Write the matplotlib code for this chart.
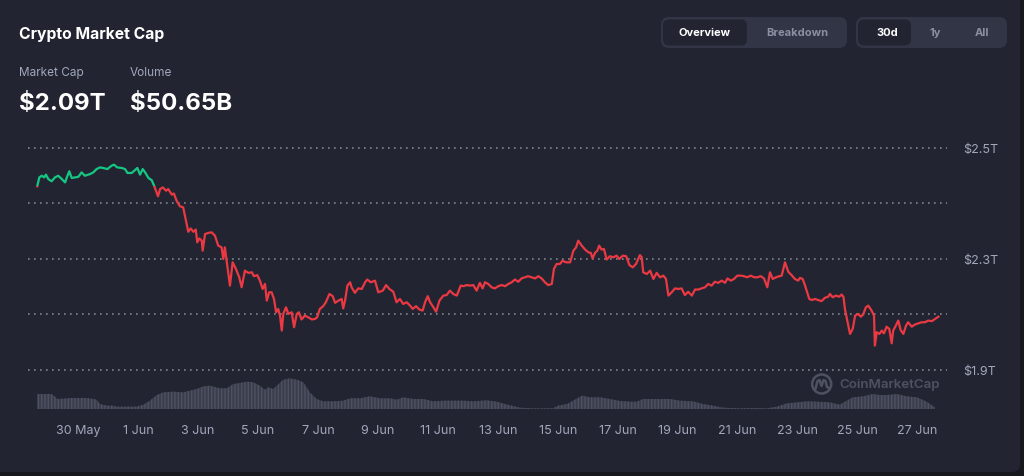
import matplotlib
matplotlib.use("Agg")
import matplotlib.pyplot as plt
from matplotlib.patches import FancyBboxPatch, Rectangle, Circle

plt.rcParams['font.family'] = ['Inter', 'DejaVu Sans']

# ---------------- data ----------------
# days relative to 30 May (0 = 30 May), total market cap in trillions USD
price_day = [-1.37, -1.30, -1.22, -1.14, -1.08, -1.00, -0.89, -0.78, -0.67, -0.55, -0.44, -0.39, -0.30, -0.22, -0.11,
             0.00, 0.11, 0.22, 0.39, 0.50, 0.61, 0.72, 0.83, 0.97, 1.11, 1.19, 1.30, 1.45, 1.56, 1.64, 1.78, 1.89,
             1.97, 2.06, 2.15, 2.23, 2.34, 2.45, 2.53, 2.59, 2.66, 2.73, 2.82, 2.93, 3.00, 3.12, 3.19, 3.28, 3.39,
             3.50, 3.59, 3.67, 3.75, 3.84, 3.92, 3.97, 4.04, 4.12, 4.15, 4.23, 4.34, 4.45, 4.56, 4.67, 4.78, 4.84,
             4.89, 4.95, 5.06, 5.15, 5.26, 5.37, 5.45, 5.56, 5.67, 5.79, 5.86, 5.97, 6.06, 6.15, 6.23, 6.29, 6.37,
             6.45, 6.53, 6.60, 6.67, 6.73, 6.79, 6.84, 6.93, 7.01, 7.12, 7.20, 7.29, 7.36, 7.45, 7.56, 7.67, 7.79,
             7.90, 7.97, 8.06, 8.17, 8.26, 8.38, 8.49, 8.57, 8.68, 8.79, 8.84, 8.90, 8.98, 9.07, 9.12, 9.23, 9.34,
             9.46, 9.57, 9.64, 9.76, 9.90, 10.01, 10.16, 10.27, 10.38, 10.51, 10.62, 10.73, 10.84, 10.96, 11.07,
             11.16, 11.27, 11.38, 11.49, 11.57, 11.66, 11.74, 11.85, 11.94, 12.05, 12.18, 12.29, 12.40, 12.51,
             12.63, 12.76, 12.85, 12.96, 13.07, 13.18, 13.29, 13.40, 13.49, 13.57, 13.68, 13.79, 13.90, 14.01,
             14.13, 14.24, 14.35, 14.46, 14.57, 14.68, 14.79, 14.90, 15.01, 15.13, 15.24, 15.35, 15.46, 15.57,
             15.68, 15.80, 15.87, 15.96, 16.07, 16.16, 16.27, 16.41, 16.52, 16.61, 16.68, 16.80, 16.91, 17.02,
             17.10, 17.16, 17.24, 17.32, 17.38, 17.46, 17.54, 17.63, 17.74, 17.85, 17.96, 18.05, 18.17, 18.28,
             18.39, 18.50, 18.61, 18.74, 18.80, 18.85, 18.97, 19.08, 19.19, 19.30, 19.41, 19.52, 19.61, 19.69,
             19.80, 19.91, 20.02, 20.13, 20.24, 20.35, 20.47, 20.58, 20.69, 20.80, 20.91, 21.02, 21.13, 21.24,
             21.35, 21.47, 21.58, 21.66, 21.77, 21.88, 21.99, 22.10, 22.21, 22.32, 22.44, 22.55, 22.66, 22.77,
             22.88, 22.99, 23.08, 23.17, 23.28, 23.39, 23.47, 23.58, 23.69, 23.80, 23.91, 24.02, 24.08, 24.17,
             24.25, 24.32, 24.39, 24.47, 24.58, 24.69, 24.80, 24.91, 25.02, 25.08, 25.17, 25.28, 25.39, 25.47,
             25.53, 25.58, 25.66, 25.75, 25.84, 25.92, 26.03, 26.11, 26.19, 26.28, 26.36, 26.47, 26.55, 26.58,
             26.64, 26.73, 26.81, 26.88, 26.97, 27.06, 27.14, 27.19, 27.28, 27.36, 27.44, 27.53, 27.62, 27.69,
             27.81, 27.92, 28.03, 28.14, 28.25, 28.36, 28.48, 28.59, 28.70]
price_cap = [2.431, 2.447, 2.450, 2.447, 2.452, 2.444, 2.440, 2.447, 2.450, 2.444, 2.438, 2.446, 2.458, 2.446, 2.447,
             2.448, 2.456, 2.450, 2.453, 2.456, 2.462, 2.465, 2.464, 2.462, 2.468, 2.470, 2.465, 2.464, 2.462, 2.455,
             2.455, 2.460, 2.464, 2.452, 2.462, 2.456, 2.446, 2.442, 2.432, 2.423, 2.413, 2.426, 2.429, 2.423, 2.426,
             2.416, 2.418, 2.405, 2.395, 2.393, 2.370, 2.349, 2.355, 2.349, 2.353, 2.330, 2.337, 2.333, 2.315, 2.345,
             2.347, 2.348, 2.342, 2.324, 2.321, 2.300, 2.321, 2.297, 2.252, 2.294, 2.282, 2.267, 2.249, 2.279, 2.275,
             2.276, 2.269, 2.271, 2.261, 2.246, 2.255, 2.225, 2.240, 2.240, 2.228, 2.204, 2.210, 2.198, 2.171, 2.201,
             2.213, 2.201, 2.204, 2.177, 2.201, 2.204, 2.191, 2.198, 2.195, 2.191, 2.192, 2.195, 2.210, 2.215, 2.222,
             2.237, 2.233, 2.221, 2.225, 2.228, 2.211, 2.225, 2.252, 2.258, 2.249, 2.239, 2.247, 2.246, 2.258, 2.263,
             2.258, 2.261, 2.240, 2.243, 2.253, 2.246, 2.241, 2.222, 2.228, 2.219, 2.222, 2.216, 2.210, 2.215, 2.209,
             2.207, 2.222, 2.233, 2.222, 2.213, 2.205, 2.225, 2.234, 2.235, 2.243, 2.237, 2.234, 2.252, 2.251, 2.253,
             2.252, 2.253, 2.243, 2.257, 2.247, 2.258, 2.255, 2.249, 2.247, 2.251, 2.253, 2.251, 2.255, 2.258, 2.263,
             2.259, 2.265, 2.267, 2.269, 2.267, 2.265, 2.269, 2.265, 2.258, 2.253, 2.255, 2.282, 2.291, 2.291, 2.297,
             2.294, 2.294, 2.315, 2.321, 2.333, 2.324, 2.317, 2.312, 2.311, 2.301, 2.311, 2.315, 2.324, 2.317, 2.318,
             2.299, 2.305, 2.303, 2.306, 2.300, 2.306, 2.305, 2.289, 2.285, 2.291, 2.307, 2.303, 2.276, 2.273, 2.279,
             2.264, 2.275, 2.267, 2.270, 2.264, 2.234, 2.240, 2.247, 2.246, 2.247, 2.235, 2.241, 2.234, 2.245, 2.245,
             2.247, 2.249, 2.255, 2.252, 2.259, 2.257, 2.261, 2.257, 2.265, 2.261, 2.264, 2.270, 2.270, 2.269, 2.267,
             2.270, 2.267, 2.267, 2.269, 2.265, 2.249, 2.276, 2.264, 2.267, 2.269, 2.270, 2.294, 2.277, 2.271, 2.264,
             2.261, 2.266, 2.264, 2.252, 2.240, 2.228, 2.226, 2.228, 2.226, 2.224, 2.230, 2.232, 2.237, 2.231, 2.234,
             2.232, 2.236, 2.232, 2.210, 2.189, 2.165, 2.174, 2.198, 2.201, 2.196, 2.200, 2.213, 2.216, 2.207, 2.198,
             2.144, 2.168, 2.165, 2.171, 2.166, 2.178, 2.174, 2.148, 2.171, 2.180, 2.189, 2.172, 2.165, 2.180, 2.186,
             2.178, 2.182, 2.184, 2.186, 2.186, 2.189, 2.188, 2.192, 2.196]

# trading volume, billions USD
vol_day = [-1.37, -0.89, -0.78, -0.71, -0.39, -0.28, 0.28, 0.39, 0.61, 0.72, 0.95, 1.17, 1.28, 1.95, 2.17, 2.39,
           2.62, 2.84, 3.17, 3.50, 3.73, 3.95, 4.17, 4.39, 4.73, 4.95, 5.17, 5.40, 5.62, 5.84, 6.06, 6.23, 6.34,
           6.51, 6.62, 6.84, 7.06, 7.29, 7.51, 7.73, 7.95, 8.17, 8.51, 8.84, 9.06, 9.40, 9.73, 10.07, 10.40, 10.62,
           10.84, 11.18, 11.51, 11.85, 12.18, 12.51, 12.85, 13.18, 13.63, 13.96, 14.29, 14.74, 15.17, 15.84, 16.01,
           16.31, 16.51, 16.81, 17.07, 17.41, 17.74, 18.08, 18.41, 18.64, 18.84, 19.31, 19.74, 20.07, 20.51, 20.84,
           21.18, 21.51, 22.08, 22.65, 22.98, 23.31, 23.65, 23.98, 24.31, 24.65, 25.08, 25.41, 25.64, 25.84, 26.18,
           26.51, 26.74, 26.98, 27.31, 27.65, 27.98, 28.31, 28.58]
vol_bn = [57.5, 57.5, 53.8, 50.0, 50.8, 51.5, 51.5, 50.8, 49.0, 42.5, 40.0, 40.0, 38.5, 38.5, 41.5, 47.5,
          56.0, 60.0, 61.0, 60.0, 62.5, 65.0, 69.0, 70.0, 66.0, 66.0, 72.5, 74.0, 76.0, 75.0, 70.0, 64.0, 67.5,
          65.0, 70.0, 79.0, 81.0, 79.0, 75.0, 60.0, 50.0, 46.5, 46.5, 47.5, 51.0, 51.0, 54.0, 51.0, 51.0, 49.0,
          52.5, 50.0, 50.0, 46.5, 47.5, 47.5, 47.5, 46.5, 48.0, 46.0, 41.8, 37.0, 36.0, 36.0, 40.0,
          42.5, 47.5, 55.0, 52.5, 52.5, 50.0, 47.0, 46.0, 46.0, 50.0, 50.0, 50.0, 47.5, 46.5, 42.5,
          40.0, 37.0, 36.0, 36.5, 36.0, 38.5, 43.5, 45.0, 46.5, 46.0, 45.0, 41.5, 47.5, 52.5, 54.0,
          57.5, 56.0, 56.0, 57.5, 54.0, 52.5, 46.0, 37.5]

x_tick_days = [0, 2, 4, 6, 8, 10, 12, 14, 16, 18, 20, 22, 24, 26, 28]
x_tick_labels = ["30 May", "1 Jun", "3 Jun", "5 Jun", "7 Jun", "9 Jun", "11 Jun", "13 Jun",
                 "15 Jun", "17 Jun", "19 Jun", "21 Jun", "23 Jun", "25 Jun", "27 Jun"]
y_tick_vals = [2.5, 2.4, 2.3, 2.2, 2.1]
y_tick_labels = ["$2.5T", "", "$2.3T", "", "$1.9T"]

title = "Crypto Market Cap"
stat_labels = ["Market Cap", "Volume"]
stat_values = ["$2.09T", "$50.65B"]

# ---------------- style ----------------
BG = '#222531'
OUTER = '#17181e'
PILL = '#323546'
GREY = '#a1a7bb'
GRID = '#80848f'
GREEN = '#16c784'
RED = '#ea3943'

W_PX, H_PX = 1024, 477
fig = plt.figure(figsize=(W_PX / 100, H_PX / 100), dpi=100, facecolor=OUTER)

# pixel-space overlay for card, header and buttons
bg = fig.add_axes([0, 0, 1, 1])
bg.set_xlim(0, W_PX)
bg.set_ylim(H_PX, 0)
bg.axis('off')
bg.add_patch(FancyBboxPatch((-20, -20), 1040, 493, boxstyle="round,pad=0,rounding_size=8",
                            facecolor=BG, edgecolor='none'))

bg.text(19, 34, title, fontsize=11.3, fontweight='bold', color='white', va='center', ha='left')
for xp, lab, val in zip([19, 130], stat_labels, stat_values):
    bg.text(xp, 73, lab, fontsize=8.5, color=GREY, va='center', ha='left')
    bg.text(xp, 104, val, fontsize=17.3, fontweight='bold', color='white', va='center', ha='left')

# button groups
def pill(x0, x1, y0, y1, color, r=7):
    bg.add_patch(FancyBboxPatch((x0, y0), x1 - x0, y1 - y0, boxstyle=f"round,pad=0,rounding_size={r}",
                                facecolor=color, edgecolor='none'))

pill(661, 847, 18, 49, PILL, 8)
pill(663, 747, 20.5, 46.5, BG, 6)
bg.text(705, 33.5, "Overview", fontsize=8, fontweight='bold', color='white', ha='center', va='center')
bg.text(797, 33.5, "Breakdown", fontsize=8, fontweight='bold', color='#8a8fa2', ha='center', va='center')
pill(856, 1007, 18, 49, PILL, 8)
pill(858, 911, 20.5, 46.5, BG, 6)
bg.text(887, 33.5, "30d", fontsize=8, fontweight='bold', color='white', ha='center', va='center')
bg.text(935, 33.5, "1y", fontsize=8, fontweight='bold', color='#8a8fa2', ha='center', va='center')
bg.text(982, 33.5, "All", fontsize=8, fontweight='bold', color='#8a8fa2', ha='center', va='center')

# watermark
wm_c = '#4d5160'
bg.add_patch(Circle((821.7, 385), 9.5, fill=False, lw=1.8, ec=wm_c))
bg.plot([815.5, 817.5, 819.5, 821.5, 823.5, 825.5, 827, 829],
        [390, 382, 381, 387, 381, 382, 388, 389], color=wm_c, lw=1.8, solid_capstyle='round')
bg.text(839, 385, "CoinMarketCap", fontsize=9.6, fontweight='semibold', color=wm_c, ha='left', va='center')

# chart geometry (pixels)
x_left, x_right = 28, 947
L = x_left / W_PX
Wd = (x_right - x_left) / W_PX
xlim = (-1.678, 28.986)

# volume area
vax = fig.add_axes([L, 1 - 410 / H_PX, Wd, 70 / H_PX])
vax.patch.set_alpha(0)
plt.rcParams['hatch.linewidth'] = 1.0
vax.fill_between(vol_day, 0, vol_bn, facecolor='#3a3d4b', edgecolor='#4d5162', hatch='|||||', linewidth=0)
vax.set_xlim(*xlim)
vax.set_ylim(35, 140)
vax.axis('off')

# price line
ax = fig.add_axes([L, 1 - 412 / H_PX, Wd, 272 / H_PX])
ax.patch.set_alpha(0)
ax.set_xlim(*xlim)
ax.set_ylim(2.0261, 2.5162)
for s in ax.spines.values():
    s.set_visible(False)

base = price_cap[0]
ln_g, = ax.plot(price_day, price_cap, color=GREEN, lw=1.6, solid_joinstyle='round', zorder=3)
ln_r, = ax.plot(price_day, price_cap, color=RED, lw=1.6, solid_joinstyle='round', zorder=3)
clip_g = Rectangle((xlim[0], base), xlim[1] - xlim[0], 1.0, transform=ax.transData)
clip_r = Rectangle((xlim[0], base - 1.0), xlim[1] - xlim[0], 1.0, transform=ax.transData)
ln_g.set_clip_path(clip_g)
ln_r.set_clip_path(clip_r)

ax.set_yticks(y_tick_vals)
ax.set_yticklabels(y_tick_labels)
ax.yaxis.tick_right()
ax.tick_params(axis='y', length=0, pad=11.5, labelsize=9, labelcolor=GREY)
ax.set_xticks(x_tick_days)
ax.set_xticklabels(x_tick_labels)
ax.tick_params(axis='x', length=0, pad=9.5, labelsize=9, labelcolor=GREY)
ax.grid(axis='y', color=GRID, lw=1.2, linestyle=(0, (1, 2.6)))
ax.grid(axis='x', visible=False)
ax.set_axisbelow(True)

fig.savefig('out.png', dpi=100, facecolor=OUTER)
